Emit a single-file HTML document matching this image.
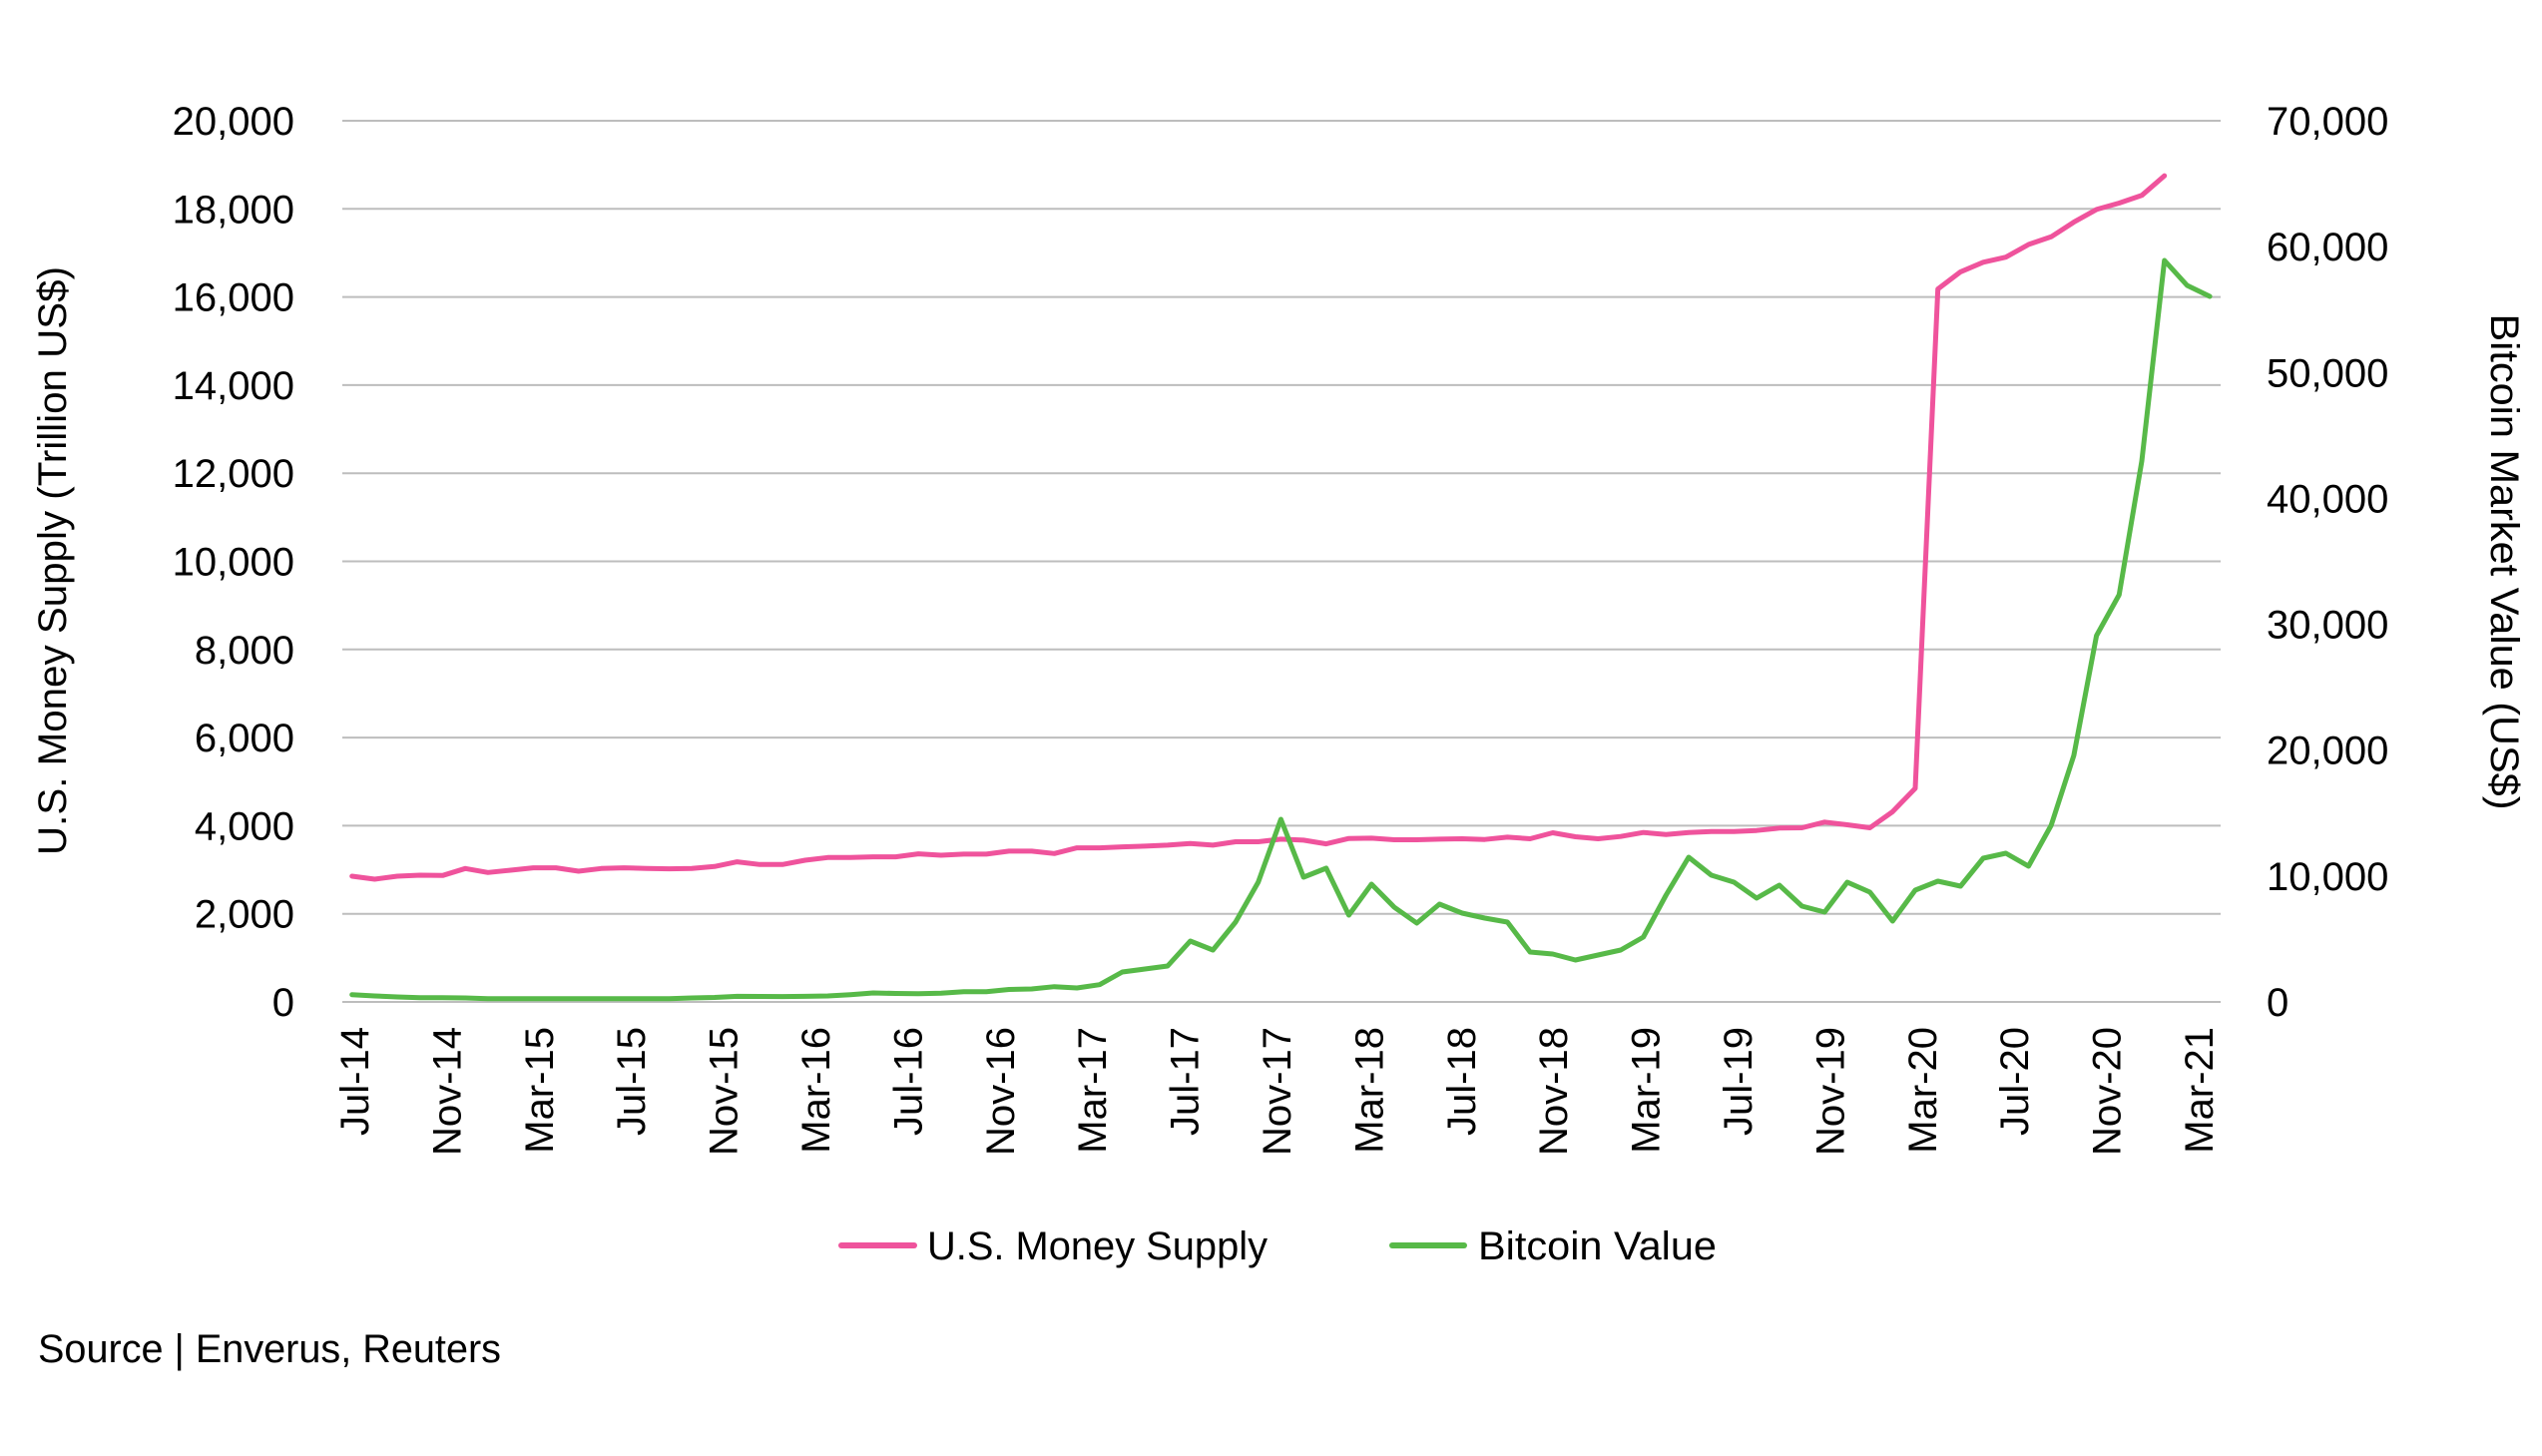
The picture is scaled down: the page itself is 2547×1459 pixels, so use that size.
<!DOCTYPE html>
<html><head><meta charset="utf-8"><style>
html,body{margin:0;padding:0;background:#fff;}
svg{display:block;}
text{font-family:"Liberation Sans",sans-serif;fill:#000;}
</style></head><body>
<svg width="2547" height="1459" viewBox="0 0 2547 1459" xmlns="http://www.w3.org/2000/svg">
<rect width="2547" height="1459" fill="#fff"/>
<g id="grid" stroke="#BDBDBD" stroke-width="2"></g>
<g id="lt" font-size="40" text-anchor="end"></g>
<g id="rt" font-size="40" text-anchor="start"></g>
<g id="xl" font-size="40" text-anchor="end"></g>
<polyline id="pink" fill="none" stroke="#EF539C" stroke-width="5" stroke-linejoin="round" stroke-linecap="round"/>
<polyline id="green" fill="none" stroke="#57B948" stroke-width="5" stroke-linejoin="round" stroke-linecap="round"/>
<text font-size="40" transform="translate(66,562) rotate(-90)" text-anchor="middle" textLength="590" lengthAdjust="spacingAndGlyphs">U.S. Money Supply (Trillion US$)</text>
<text font-size="40" transform="translate(2496,563) rotate(90)" text-anchor="middle" textLength="497" lengthAdjust="spacingAndGlyphs">Bitcoin Market Value (US$)</text>
<line x1="843" y1="1248" x2="916" y2="1248" stroke="#EF539C" stroke-width="6" stroke-linecap="round"/>
<text x="929" y="1262" font-size="40" textLength="341" lengthAdjust="spacingAndGlyphs">U.S. Money Supply</text>
<line x1="1395" y1="1248" x2="1467" y2="1248" stroke="#57B948" stroke-width="6" stroke-linecap="round"/>
<text x="1481" y="1262" font-size="40" textLength="239" lengthAdjust="spacingAndGlyphs">Bitcoin Value</text>
<text x="38" y="1365" font-size="40" textLength="464" lengthAdjust="spacingAndGlyphs">Source | Enverus, Reuters</text>
</svg>
<script>
(function(){
var NS="http://www.w3.org/2000/svg";
function el(p,tag,attrs,txt){var e=document.createElementNS(NS,tag);for(var k in attrs)e.setAttribute(k,attrs[k]);if(txt!==undefined)e.textContent=txt;document.getElementById(p).appendChild(e);return e;}
function fmt(n){return String(n).replace(/\B(?=(\d{3})+(?!\d))/g,",");}
var T=121,B=1004,i;
for(i=0;i<=10;i++){var y=B-(B-T)*i/10;el('grid','line',{x1:343,x2:2225,y1:y,y2:y});
 el('lt','text',{x:295,y:y+14},fmt(i*2000));}
for(i=0;i<=7;i++){var y2=B-(B-T)*i/7;el('rt','text',{x:2271,y:y2+14},fmt(i*10000));}
var m=['Jul','Nov','Mar'];
for(var k=0;k<=20;k++){var mo=m[k%3];var yr=14+Math.floor((k+1)/3);var cx=355+92.4*k;
 el('xl','text',{transform:'translate('+(cx+14)+',1029) rotate(-90)'},mo+'-'+yr);}
var P=[878,881,878,877,877.3,870.3,874.3,872,869.6,869.6,873,870.3,869.6,870.3,870.6,870.3,868.3,863.6,866.3,866.3,862,859.3,859.3,858.6,858.6,855.6,857,855.9,855.9,852.9,852.9,855.3,849.6,849.6,848.6,847.9,846.9,845.2,846.9,843.5,843.5,840.9,841.9,845.6,840.2,839.9,841.5,841.5,840.9,840.5,841.2,838.9,840.5,834.5,838.5,840.5,838.2,834.2,836.2,834.2,833.2,833.2,832.2,829.8,829.5,823.8,826.5,829.5,813.4,790,289.6,272.4,262.8,257.7,245,237.3,222.6,209.9,203.5,195.8,176.1];
var G=[996.7,998,999,999.7,999.7,1000,1000.7,1000.7,1000.7,1000.7,1000.7,1000.7,1000.7,1000.7,1000.7,1000,999.5,998.4,998.5,998.6,998.4,998,996.7,995,995.5,995.7,995.3,993.8,993.7,991.5,991,988.7,990,986.7,974,971,968,943,952,924,884,821,879,870,917,886,909,925,906,915,920,924,954,956,962,957,952,939,897,859,877,884,900,887,908,914,884,894,923,892,883,888,860,855,868,827,757,637,596,462,261,286,297];
function pts(a){return a.map(function(y,j){return (352.7+22.7*j).toFixed(1)+','+y;}).join(' ');}
document.getElementById('pink').setAttribute('points',pts(P));
document.getElementById('green').setAttribute('points',pts(G));
})();
</script>
</body></html>
